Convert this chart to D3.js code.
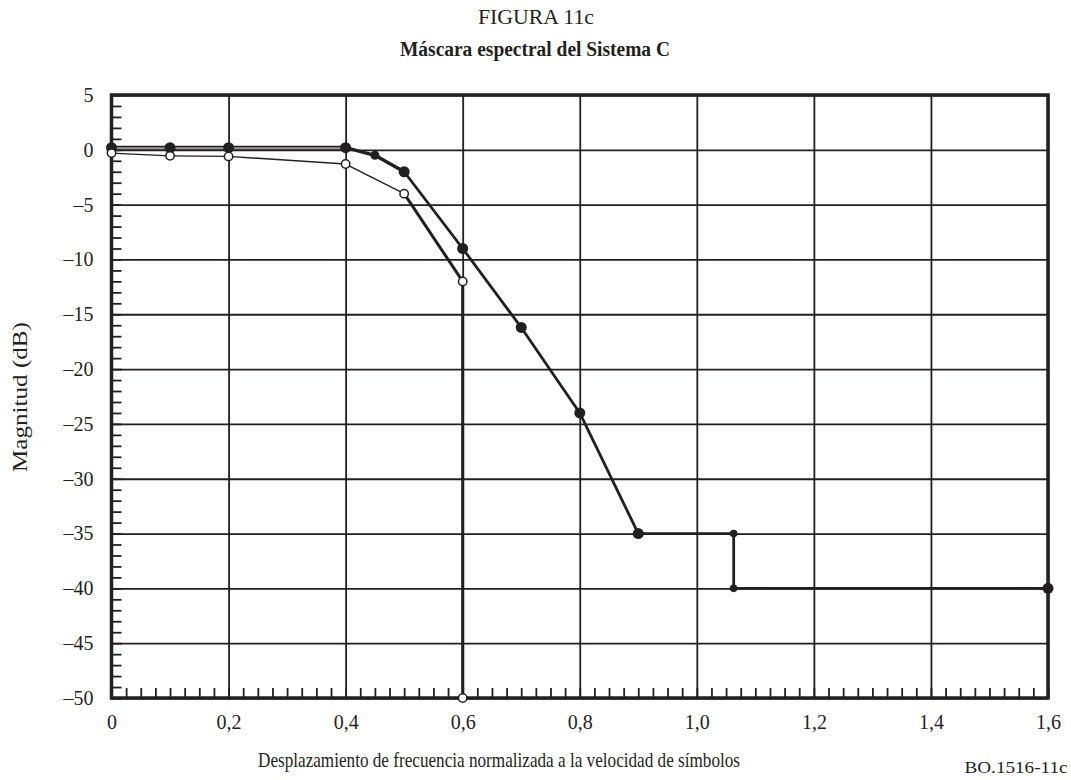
<!DOCTYPE html>
<html>
<head>
<meta charset="utf-8">
<script src="https://cdn.jsdelivr.net/npm/d3@7"></script>
<style>
  html, body { margin: 0; padding: 0; background: #fff; overflow: hidden; }
  svg { display: block; }
  svg text { font-family: "Liberation Serif", "Times New Roman", serif; fill: #231f20; }
</style>
</head>
<body>
<div id="chart"></div>
<script>
// mask with filled markers (upper limit)
const upperX = [0, 0.1, 0.2, 0.4, 0.45, 0.5, 0.6, 0.7, 0.8, 0.9, 1.063, 1.063, 1.6];
const upperY = [0.2, 0.2, 0.2, 0.2, -0.5, -2, -9, -16.2, -24, -35, -35, -40, -40];

// mask with open markers (lower limit)
const lowerX = [0, 0.1, 0.2, 0.4, 0.5, 0.6, 0.6];
const lowerY = [-0.3, -0.55, -0.6, -1.3, -4, -12, -50];

const xTicks = [0, 0.2, 0.4, 0.6, 0.8, 1.0, 1.2, 1.4, 1.6];
const xTickLabels = ['0', '0,2', '0,4', '0,6', '0,8', '1,0', '1,2', '1,4', '1,6'];
const yTicks = [5, 0, -5, -10, -15, -20, -25, -30, -35, -40, -45, -50];
const yTickLabels = ['5', '0', '–5', '–10', '–15', '–20', '–25', '–30', '–35', '–40', '–45', '–50'];

const width = 1071, height = 780;
const margin = { top: 95, right: 23, bottom: 82, left: 111.5 };
const innerWidth = width - margin.left - margin.right;
const innerHeight = height - margin.top - margin.bottom;
const ink = '#231f20';
const serif = '"Liberation Serif", "Times New Roman", serif';

const svg = d3.select('#chart')
  .append('svg')
    .attr('width', width)
    .attr('height', height)
    .attr('font-family', serif);

// condensed serif text, as in the original figure
const label = (parent, txt, size, len) => parent.append('text')
  .attr('font-size', size)
  .attr('textLength', len)
  .attr('lengthAdjust', 'spacingAndGlyphs')
  .text(txt);

label(svg, 'FIGURA 11c', 20, 116)
  .attr('x', 536).attr('y', 24)
  .attr('text-anchor', 'middle');

label(svg, 'Máscara espectral del Sistema C', 20, 270)
  .attr('x', 535).attr('y', 56)
  .attr('text-anchor', 'middle')
  .attr('font-weight', 'bold');

const g = svg.append('g')
  .attr('transform', `translate(${margin.left}, ${margin.top})`);

const x = d3.scaleLinear().domain([0, 1.6]).range([0, innerWidth]);
const y = d3.scaleLinear().domain([-50, 5]).range([innerHeight, 0]);

const styleLines = s => s.selectAll('line').attr('stroke', ink).attr('stroke-width', 1.8);

// grid
g.append('g')
  .attr('class', 'grid grid--x')
  .call(d3.axisBottom(x).tickValues(xTicks).tickSize(innerHeight).tickFormat(''))
  .call(s => s.select('.domain').remove())
  .call(s => s.selectAll('text').remove())
  .call(styleLines);

g.append('g')
  .attr('class', 'grid grid--y')
  .call(d3.axisRight(y).tickValues(yTicks).tickSize(innerWidth).tickFormat(''))
  .call(s => s.select('.domain').remove())
  .call(s => s.selectAll('text').remove())
  .call(styleLines);

// minor ticks
g.append('g')
  .attr('class', 'minor minor--y')
  .call(d3.axisLeft(y).tickValues(d3.range(-50, 6, 1)).tickSize(-10).tickFormat(''))
  .call(s => s.select('.domain').remove())
  .call(s => s.selectAll('text').remove())
  .call(styleLines);

g.append('g')
  .attr('class', 'minor minor--x')
  .attr('transform', `translate(0, ${innerHeight})`)
  .call(d3.axisBottom(x).tickValues(d3.range(0, 1.6001, 0.025)).tickSize(-10).tickFormat(''))
  .call(s => s.select('.domain').remove())
  .call(s => s.selectAll('text').remove())
  .call(styleLines);

// tick labels
g.append('g')
  .attr('class', 'axis axis--x')
  .attr('transform', `translate(0, ${innerHeight})`)
  .call(d3.axisBottom(x).tickValues(xTicks).tickSize(0).tickPadding(17)
    .tickFormat((d, i) => xTickLabels[i]))
  .attr('font-size', 20)
  .attr('font-family', serif)
  .call(s => s.select('.domain').remove())
  .call(s => s.selectAll('text').attr('fill', ink));

g.append('g')
  .attr('class', 'axis axis--y')
  .call(d3.axisLeft(y).tickValues(yTicks).tickSize(0).tickPadding(18)
    .tickFormat((d, i) => yTickLabels[i]))
  .attr('font-size', 20)
  .attr('font-family', serif)
  .call(s => s.select('.domain').remove())
  .call(s => s.selectAll('text').attr('fill', ink));

// frame
g.append('rect')
  .attr('width', innerWidth)
  .attr('height', innerHeight)
  .attr('fill', 'none')
  .attr('stroke', ink)
  .attr('stroke-width', 3.5);

// series
const upper = upperX.map((v, i) => ({ x: v, y: upperY[i] }));
const lower = lowerX.map((v, i) => ({ x: v, y: lowerY[i] }));

// flat start of the upper mask drawn as a double line
const flat = upper.filter(d => d.x <= 0.4);
const flatLine = d3.line().x(d => x(d.x)).y(d => y(d.y) + 0.5);
g.append('path')
  .datum(flat)
  .attr('fill', 'none')
  .attr('stroke', ink)
  .attr('stroke-width', 5)
  .attr('d', flatLine);
g.append('path')
  .datum(flat)
  .attr('fill', 'none')
  .attr('stroke', '#9a9a9a')
  .attr('stroke-width', 2)
  .attr('d', flatLine);

g.append('g')
  .selectAll('line')
  .data(d3.pairs(upper).filter(([a]) => a.x >= 0.4))
  .join('line')
    .attr('x1', ([a]) => x(a.x)).attr('y1', ([a]) => y(a.y))
    .attr('x2', ([, b]) => x(b.x)).attr('y2', ([, b]) => y(b.y))
    .attr('stroke', ink)
    .attr('stroke-linecap', 'round')
    .attr('stroke-width', ([a]) => a.x < 0.5 ? 3.4 : 2.8);

g.append('g')
  .selectAll('line')
  .data(d3.pairs(lower))
  .join('line')
    .attr('x1', ([a]) => x(a.x)).attr('y1', ([a]) => y(a.y))
    .attr('x2', ([, b]) => x(b.x)).attr('y2', ([, b]) => y(b.y))
    .attr('stroke', ink)
    .attr('stroke-linecap', 'round')
    .attr('stroke-width', ([a]) => a.x >= 0.5 ? 3 : 1.4);

// markers
g.append('g')
  .selectAll('circle')
  .data(upper)
  .join('circle')
    .attr('cx', d => x(d.x))
    .attr('cy', d => y(d.y))
    .attr('r', (d, i) => {
      const step = (upper[i - 1] && upper[i - 1].x === d.x) || (upper[i + 1] && upper[i + 1].x === d.x);
      return step ? 3.8 : (d.x === 0.45 ? 4.5 : 5.5);
    })
    .attr('fill', ink);

g.append('g')
  .selectAll('circle')
  .data(lower)
  .join('circle')
    .attr('cx', d => x(d.x))
    .attr('cy', d => y(d.y))
    .attr('r', 4.2)
    .attr('fill', '#fff')
    .attr('stroke', ink)
    .attr('stroke-width', 1.5);

// axis titles
label(svg, 'Magnitud (dB)', 22, 150)
  .attr('transform', 'translate(27, 397) rotate(-90)')
  .attr('text-anchor', 'middle');

label(svg, 'Desplazamiento de frecuencia normalizada a la velocidad de símbolos', 22, 482)
  .attr('x', 499).attr('y', 767)
  .attr('text-anchor', 'middle');

label(svg, 'BO.1516-11c', 16, 103)
  .attr('x', 1016).attr('y', 773)
  .attr('text-anchor', 'middle');
</script>
</body>
</html>
